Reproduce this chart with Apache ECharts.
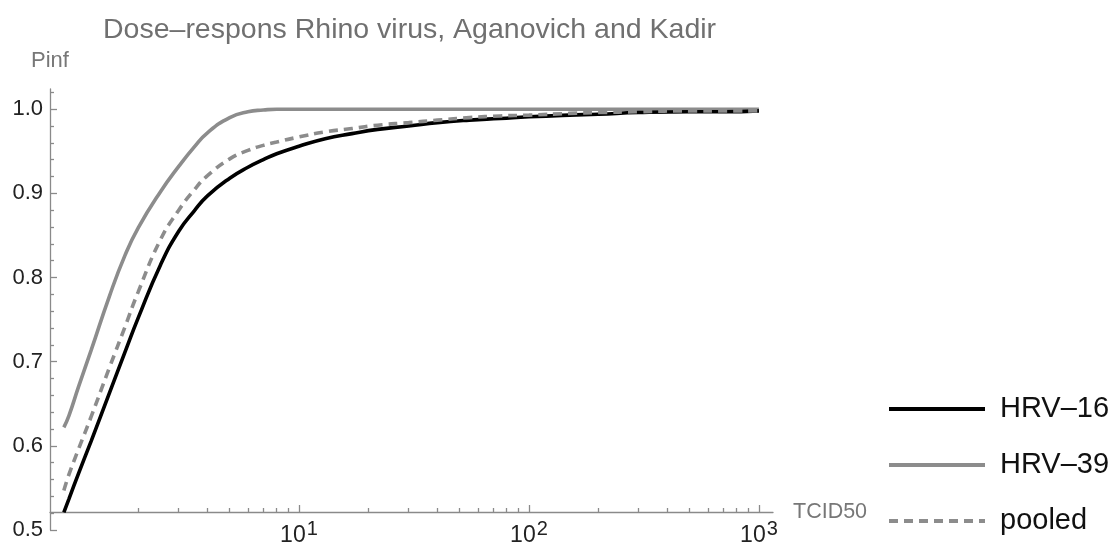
<!DOCTYPE html>
<html><head><meta charset="utf-8">
<script src="https://cdn.jsdelivr.net/npm/echarts@6/dist/echarts.min.js"></script>
<style>html,body{margin:0;padding:0;background:#fff}#c{width:1117px;height:549px}</style>
</head><body><div id="c"></div>
<script>
// Dose (TCID50) sample points
const doses  = [0.95, 1, 1.1, 1.25, 1.5, 1.75, 2, 2.5, 3, 3.5, 4, 5, 6, 7, 8, 10, 13, 17, 22, 30, 40, 55, 75, 100, 150, 200, 300, 500, 700, 1000];
// Probability of infection
const hrv16  = [0.521, 0.537, 0.567, 0.606, 0.663, 0.711, 0.752, 0.815, 0.855, 0.879, 0.897, 0.918, 0.931, 0.940, 0.947, 0.956, 0.965, 0.971, 0.976, 0.980, 0.984, 0.987, 0.989, 0.991, 0.993, 0.994, 0.996, 0.997, 0.997, 0.998];
const hrv39  = [0.622, 0.636, 0.670, 0.714, 0.778, 0.826, 0.859, 0.902, 0.932, 0.955, 0.972, 0.990, 0.997, 0.999, 1.000, 1.000, 1.000, 1.000, 1.000, 1.000, 1.000, 1.000, 1.000, 1.000, 1.000, 1.000, 1.000, 1.000, 1.000, 1.000];
const pooled = [0.547, 0.566, 0.596, 0.635, 0.693, 0.741, 0.783, 0.845, 0.880, 0.904, 0.921, 0.941, 0.951, 0.957, 0.961, 0.967, 0.973, 0.977, 0.981, 0.984, 0.987, 0.990, 0.992, 0.993, 0.995, 0.996, 0.997, 0.998, 0.998, 0.998];
const seriesNames = ['HRV\u201316', 'HRV\u201339', 'pooled'];
// Tick values
const xMajorTicks = [10, 100, 1000];
const xMinorTicks = [2, 3, 4, 5, 6, 7, 8, 9, 20, 30, 40, 50, 60, 70, 80, 90, 200, 300, 400, 500, 600, 700, 800, 900];
const yMajorTicks = [0.5, 0.6, 0.7, 0.8, 0.9, 1.0];
const yMinorTicks = [0.52, 0.54, 0.56, 0.58, 0.62, 0.64, 0.66, 0.68, 0.72, 0.74, 0.76, 0.78, 0.82, 0.84, 0.86, 0.88, 0.92, 0.94, 0.96, 0.98, 1.02];

const AX = '#8a8a8a';
const FONT = 'Liberation Sans, Arial, sans-serif';
const zip = arr => doses.map((d, i) => [d, arr[i]]);

const xCommon = {type: 'log', logBase: 10, min: 0.827, max: 1151, position: 'bottom', offset: -18,
  splitLine: {show: false}, gridIndex: 0};
const yCommon = {type: 'value', min: 0.5, max: 1.024, position: 'left', splitLine: {show: false}, gridIndex: 0};

const chart = echarts.init(document.getElementById('c'), null, {renderer: 'canvas'});
chart.setOption({
  animation: false,
  backgroundColor: '#fff',
  title: {text: 'Dose\u2013respons Rhino virus, Aganovich and Kadir', left: 98, top: 11,
    textStyle: {fontFamily: FONT, fontSize: 28.5, fontWeight: 'normal', color: '#707070'}},
  grid: {left: 50, right: 344, top: 89, bottom: 19, containLabel: false},
  legend: {orient: 'vertical', left: 887, top: 394, padding: 0, itemWidth: 96, itemHeight: 14, itemGap: 26,
    data: seriesNames,
    lineStyle: {width: 4},
    itemStyle: {opacity: 0},
    textStyle: {fontFamily: FONT, fontSize: 29, color: '#111', padding: [0, 0, 0, 10], lineHeight: 30}},
  xAxis: [
    Object.assign({}, xCommon, {
      name: 'TCID50', nameLocation: 'end', nameGap: 20,
      nameTextStyle: {fontFamily: FONT, fontSize: 21.5, color: '#777'},
      axisLine: {show: true, lineStyle: {color: AX, width: 1.3}},
      axisTick: {show: true, inside: true, length: 7, customValues: xMajorTicks, lineStyle: {color: AX, width: 1.3}},
      axisLabel: {show: true, customValues: xMajorTicks, margin: 12,
        formatter: v => '{b|10}{s|' + Math.round(Math.log10(v)) + '}',
        rich: {
          b: {fontFamily: FONT, fontSize: 23, color: '#222', lineHeight: 23, verticalAlign: 'bottom'},
          s: {fontFamily: FONT, fontSize: 20, color: '#222', lineHeight: 20, verticalAlign: 'bottom', padding: [0, 0, 8, 1]}
        }}
    }),
    Object.assign({}, xCommon, {
      axisLine: {show: false},
      axisTick: {show: true, inside: true, length: 4, customValues: xMinorTicks, lineStyle: {color: AX, width: 1.3}},
      axisLabel: {show: false}
    })
  ],
  yAxis: [
    Object.assign({}, yCommon, {
      name: 'Pinf', nameLocation: 'end', nameGap: 17,
      nameTextStyle: {fontFamily: FONT, fontSize: 22, color: '#777'},
      axisLine: {show: true, lineStyle: {color: AX, width: 1.3}},
      axisTick: {show: true, inside: true, length: 7, customValues: yMajorTicks, lineStyle: {color: AX, width: 1.3}},
      axisLabel: {show: true, customValues: yMajorTicks, margin: 7,
        formatter: v => v.toFixed(1),
        fontFamily: FONT, fontSize: 22, color: '#222'}
    }),
    Object.assign({}, yCommon, {
      axisLine: {show: false},
      axisTick: {show: true, inside: true, length: 4, customValues: yMinorTicks, lineStyle: {color: AX, width: 1.3}},
      axisLabel: {show: false}
    })
  ],
  series: [
    {name: seriesNames[0], type: 'line', data: zip(hrv16), smooth: 0.5, showSymbol: false, symbol: 'none',
      xAxisIndex: 0, yAxisIndex: 0, z: 3,
      lineStyle: {color: '#000', width: 3.6}, itemStyle: {color: '#000'}},
    {name: seriesNames[1], type: 'line', data: zip(hrv39), smooth: 0.5, showSymbol: false, symbol: 'none',
      xAxisIndex: 0, yAxisIndex: 0, z: 2,
      lineStyle: {color: '#8c8c8c', width: 3.6}, itemStyle: {color: '#8c8c8c'}},
    {name: seriesNames[2], type: 'line', data: zip(pooled), smooth: 0.5, showSymbol: false, symbol: 'none',
      xAxisIndex: 0, yAxisIndex: 0, z: 4,
      lineStyle: {color: '#8c8c8c', width: 3.6, type: [9, 6]}, itemStyle: {color: '#8c8c8c'}}
  ]
});
</script></body></html>
